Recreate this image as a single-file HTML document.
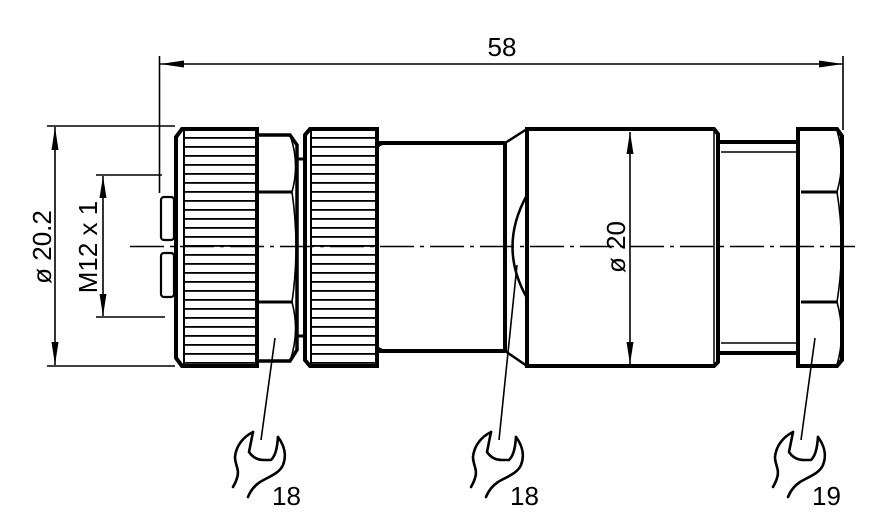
<!DOCTYPE html>
<html><head><meta charset="utf-8"><style>
html,body{margin:0;padding:0;background:#fff;}
svg{display:block;}
text{font-family:"Liberation Sans",sans-serif;fill:#000;}
</style></head><body>
<svg width="886" height="531" viewBox="0 0 886 531" xmlns="http://www.w3.org/2000/svg">
<defs>
<pattern id="kn" x="0" y="137" width="10" height="9" patternUnits="userSpaceOnUse">
<rect x="0" y="0" width="10" height="1.8" fill="#000"/>
</pattern>
<g id="wr" fill="none" stroke="#000" stroke-width="2.6" stroke-linecap="round" stroke-linejoin="round">
<path d="M253,432 C243,437 236,446 235,457 C235,465 240,470 237,478 C236,482 234,485 233,487"/>
<path d="M253,432 L249,452 C253,458 258,460 264,460 L271,460 C275,456 277,450 278,437"/>
<path d="M278,437 C284,445 287,455 283,465 C279,474 268,477 260,482 C254,486 250,492 248,497"/>
</g>
</defs>

<g stroke="#000" fill="none">
<line x1="159.5" y1="56" x2="159.5" y2="193" stroke-width="1.6"/>
<line x1="843" y1="56" x2="843" y2="130" stroke-width="1.6"/>
<line x1="160" y1="64" x2="843" y2="64" stroke-width="1.6"/>
</g>
<polygon points="160,64 184,60.5 184,67.5" fill="#000"/>
<polygon points="843,64 819,60.5 819,67.5" fill="#000"/>
<text x="502" y="56" font-size="26" text-anchor="middle">58</text>

<g stroke="#000" stroke-width="1.6" fill="none">
<line x1="47" y1="126" x2="175" y2="126"/>
<line x1="47" y1="366" x2="175" y2="366"/>
<line x1="55" y1="127" x2="55" y2="365"/>
<line x1="96" y1="175" x2="162" y2="175"/>
<line x1="96" y1="317" x2="165" y2="317"/>
<line x1="103" y1="176" x2="103" y2="316"/>
</g>
<polygon points="55,127 51.5,150 58.5,150" fill="#000"/>
<polygon points="55,365 51.5,342 58.5,342" fill="#000"/>
<polygon points="103,176 99.5,198 106.5,198" fill="#000"/>
<polygon points="103,316 99.5,294 106.5,294" fill="#000"/>
<text transform="translate(51,247) rotate(-90)" font-size="26" text-anchor="middle">ø 20.2</text>
<text transform="translate(97,247) rotate(-90)" font-size="26" text-anchor="middle">M12 x 1</text>

<g stroke="#000" stroke-width="2.2" fill="#fff">
<rect x="161" y="197" width="13" height="43" rx="3"/>
<rect x="161" y="253" width="13" height="44" rx="3"/>
</g>

<rect x="184" y="131" width="73" height="233" fill="url(#kn)"/>
<path d="M182,129 L257,129 L257,366 L182,366 L176,358 L176,137 Z" fill="none" stroke="#000" stroke-width="4"/>
<line x1="184" y1="131" x2="184" y2="364" stroke="#000" stroke-width="2"/>

<g fill="none" stroke="#000">
<path d="M258,135 L290,135 L297,145 L297,350 L290,361 L258,361" stroke-width="3.5"/>
<line x1="258" y1="192" x2="292" y2="192" stroke-width="3"/>
<line x1="258" y1="302" x2="292" y2="302" stroke-width="3"/>
<path d="M290,135 Q300,163 292,192 Q300,247 292,302 Q300,332 290,361" stroke-width="1.6"/>
<rect x="297" y="159" width="8" height="177" stroke-width="3"/>
</g>

<rect x="312" y="131" width="65" height="233" fill="url(#kn)"/>
<path d="M310,129 L377,129 L377,366 L310,366 L305,360 L305,135 Z" fill="none" stroke="#000" stroke-width="4"/>
<line x1="311" y1="131" x2="311" y2="364" stroke="#000" stroke-width="2"/>

<g fill="none" stroke="#000">
<path d="M378,143 L505,143 M378,351 L505,351" stroke-width="4"/>
<path d="M378,147 Q382,143 392,143 M378,347 Q382,351 392,351" stroke-width="1.5"/>
<line x1="505" y1="143" x2="505" y2="351" stroke-width="4"/>
<path d="M505,143 L527,129 M505,351 L527,366" stroke-width="2.5"/>
<path d="M527,195 Q498,247 527,298" stroke-width="2.5"/>
<path d="M527,129 L714,129 L718,134 L718,362 L714,366 L527,366 Z" stroke-width="4"/>
<line x1="714" y1="131" x2="714" y2="364" stroke-width="1.5"/>
<path d="M718,142 L798,142 M718,353 L798,353" stroke-width="4"/>
<path d="M721,152 L798,152 M721,343 L798,343" stroke-width="1.5"/>
<path d="M798,129 L837,129 L842,136 L842,360 L837,366 L798,366 Z" stroke-width="4"/>
<line x1="801" y1="192" x2="837" y2="192" stroke-width="3"/>
<line x1="801" y1="302" x2="837" y2="302" stroke-width="3"/>
<path d="M837,130 Q846,161 837,192 Q846,247 837,302 Q846,334 837,365" stroke-width="1.6"/>
</g>

<line x1="630" y1="132" x2="630" y2="364" stroke="#000" stroke-width="1.6"/>
<polygon points="630,132 626.5,154 633.5,154" fill="#000"/>
<polygon points="630,364 626.5,342 633.5,342" fill="#000"/>
<rect x="603" y="222" width="24" height="52" fill="#fff"/>
<text transform="translate(625,247) rotate(-90)" font-size="26" text-anchor="middle">ø 20</text>

<line x1="130" y1="246.5" x2="855" y2="246.5" stroke="#000" stroke-width="1.6" stroke-dasharray="34,6,4,6"/>

<g stroke="#000" stroke-width="1.6">
<line x1="275" y1="338" x2="261" y2="440"/>
<line x1="517" y1="265" x2="499" y2="440"/>
<line x1="815" y1="338" x2="801" y2="440"/>
</g>

<use href="#wr"/>
<use href="#wr" transform="translate(238,0)"/>
<use href="#wr" transform="translate(540,0)"/>
<text x="272" y="505" font-size="26">18</text>
<text x="510" y="505" font-size="26">18</text>
<text x="812" y="505" font-size="26">19</text>
</svg>
</body></html>
